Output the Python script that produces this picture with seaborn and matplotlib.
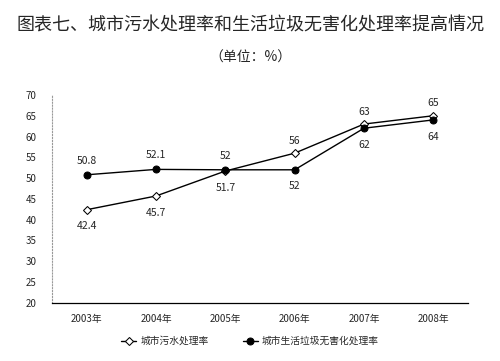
import pandas as pd
import numpy as np
import seaborn as sns
import matplotlib.pyplot as plt

# chart data
years = ['2003年', '2004年', '2005年', '2006年', '2007年', '2008年']
water = [42.4, 45.7, 51.7, 56, 63, 65]
garbage = [50.8, 52.1, 52, 52, 62, 64]
water_labels = ['42.4', '45.7', '51.7', '56', '63', '65']
garbage_labels = ['50.8', '52.1', '52', '52', '62', '64']
water_above = [False, False, False, True, True, True]
garbage_above = [True, True, True, False, False, False]
series_names = ['城市污水处理率', '城市生活垃圾无害化处理率']
yticks = [20, 25, 30, 35, 40, 45, 50, 55, 60, 65, 70]

sns.set_style("white")
plt.rcParams['font.family'] = ['Noto Sans CJK SC', 'DejaVu Sans']

df = pd.DataFrame({
    'year': years * 2,
    'value': water + garbage,
    'series': [series_names[0]] * len(years) + [series_names[1]] * len(years),
})

fig = plt.figure(figsize=(5, 3.61), dpi=100)
ax = fig.add_axes([0.104, 0.161, 0.832, 0.576])

sns.lineplot(data=df, x='year', y='value', hue='series', style='series',
             palette={series_names[0]: 'black', series_names[1]: 'black'},
             markers={series_names[0]: 'D', series_names[1]: 'o'},
             dashes=False, sort=False, linewidth=1, markersize=5,
             markeredgecolor='black', ax=ax)

# make the water markers hollow
for line in ax.lines:
    if line.get_marker() == 'D':
        line.set_markerfacecolor('white')
        line.set_markersize(4.5)

for i in range(len(years)):
    off = 9 if water_above[i] else -12
    ax.annotate(water_labels[i], (i, water[i]), xytext=(0, off),
                textcoords='offset points', ha='center', va='center', fontsize=7.5)
    off = 10 if garbage_above[i] else -12
    ax.annotate(garbage_labels[i], (i, garbage[i]), xytext=(0, off),
                textcoords='offset points', ha='center', va='center', fontsize=7.5)

ax.set_xlim(-0.5, len(years) - 0.5)
ax.set_ylim(20, 70)
ax.set_yticks(yticks)
ax.set_xlabel('')
ax.set_ylabel('')
ax.tick_params(axis='y', labelsize=7, length=3, direction='in', color='#555555', pad=11)
ax.tick_params(axis='x', labelsize=7, length=0, pad=8)
ax.set_xticks(range(len(years)))
ax.set_xticks(np.arange(0.5, len(years) - 0.5, 1), minor=True)
ax.tick_params(axis='x', which='minor', length=4, direction='in', color='black')

for s in ['top', 'right']:
    ax.spines[s].set_visible(False)
ax.spines['left'].set_color('#999999')
ax.spines['left'].set_linestyle(':')
ax.spines['bottom'].set_color('black')
ax.spines['bottom'].set_linewidth(0.9)

handles, labels = ax.get_legend_handles_labels()
ax.legend(handles, labels, loc='center', bbox_to_anchor=(0.5, 0.055),
          bbox_transform=fig.transFigure, ncol=2, frameon=False,
          fontsize=7, handlelength=1.6, columnspacing=3.5, handletextpad=0.4)

fig.text(0.5, 0.93, '图表七、城市污水处理率和生活垃圾无害化处理率提高情况',
         ha='center', va='center', fontsize=13, fontweight='medium')
fig.text(0.5, 0.84, '（单位：%）', ha='center', va='center', fontsize=10)

fig.savefig('out.png', dpi=100)
